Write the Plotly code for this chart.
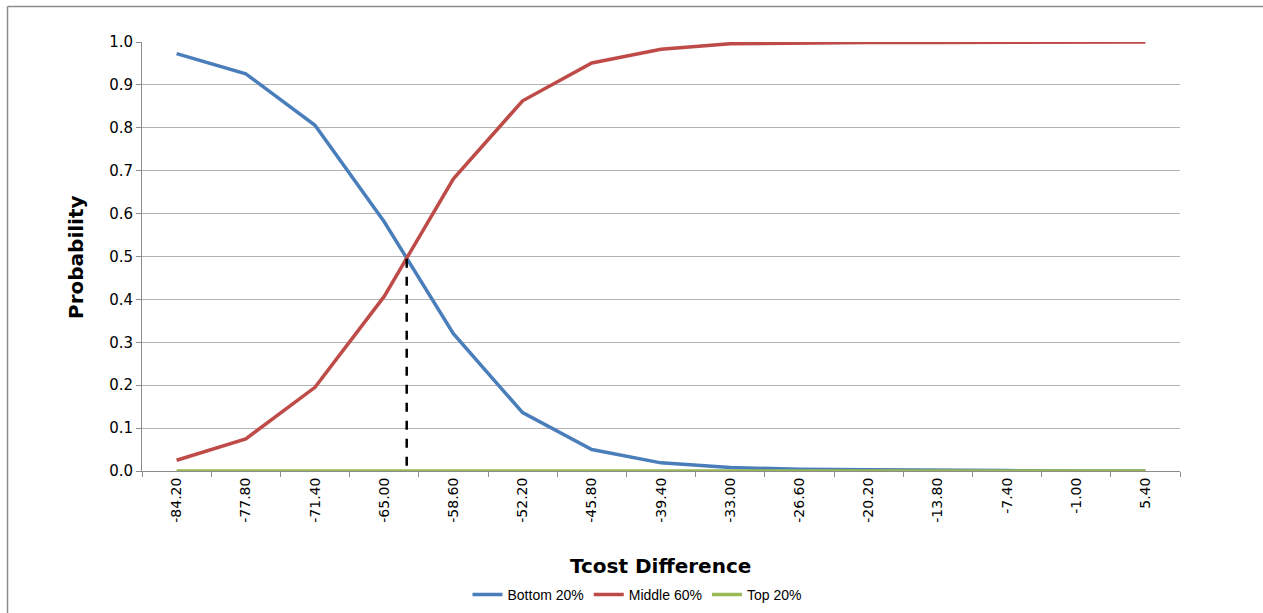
import plotly.graph_objects as go

categories = ["-84.20", "-77.80", "-71.40", "-65.00", "-58.60", "-52.20", "-45.80",
              "-39.40", "-33.00", "-26.60", "-20.20", "-13.80", "-7.40", "-1.00", "5.40"]
bottom20 = [0.973, 0.926, 0.806, 0.581, 0.320, 0.136, 0.050, 0.019, 0.008, 0.004,
            0.003, 0.003, 0.001, 0.000, 0.000]
middle60 = [0.025, 0.075, 0.195, 0.407, 0.681, 0.863, 0.951, 0.983, 0.996, 0.998,
            0.999, 0.999, 1.000, 1.000, 1.000]
top20 = [0.0] * 15
series_names = ["Bottom 20%", "Middle 60%", "Top 20%"]
colors = ["#4a7ebb", "#be4b48", "#98b954"]

# crossing point of Bottom and Middle curves (computed from data)
cross_x, cross_y = None, None
for i in range(len(categories) - 1):
    d0 = bottom20[i] - middle60[i]
    d1 = bottom20[i + 1] - middle60[i + 1]
    if d0 >= 0 and d1 < 0:
        t = d0 / (d0 - d1)
        cross_x = i + t
        cross_y = bottom20[i] + t * (bottom20[i + 1] - bottom20[i])
        break

fig = go.Figure()
for name, vals, col in zip(series_names, [bottom20, middle60, top20], colors):
    fig.add_trace(go.Scatter(x=categories, y=vals, mode="lines", name=name,
                             line=dict(color=col, width=3.5), cliponaxis=False))

W, H = 1263, 613
L, R, T, B = 142, 1180, 42, 471
pw, ph = R - L, B - T

def px(x):
    return (x - L) / pw

def py(y):
    return (B - y) / ph

fig.add_shape(type="line", xref="x", yref="y", x0=cross_x, x1=cross_x, y0=0.012, y1=cross_y,
              line=dict(color="black", width=2.5, dash="dash"))

# outer chart border (left and top edges visible)
fig.add_shape(type="line", xref="paper", yref="paper",
              x0=px(7.5), x1=px(7.5), y0=py(6.5), y1=py(613),
              line=dict(color="#8c8c8c", width=1.5), layer="below")
fig.add_shape(type="line", xref="paper", yref="paper",
              x0=px(7.5), x1=px(1263), y0=py(6.5), y1=py(6.5),
              line=dict(color="#8c8c8c", width=1.5), layer="below")

fig.add_annotation(text="<b>Probability</b>", xref="paper", yref="paper",
                   x=px(76), y=py(257), xanchor="center", yanchor="middle",
                   showarrow=False, textangle=-90,
                   font=dict(family="DejaVu Sans", size=20, color="black"))
fig.add_annotation(text="<b>Tcost Difference</b>", xref="paper", yref="paper",
                   x=px(660), y=py(566), xanchor="center", yanchor="middle",
                   showarrow=False,
                   font=dict(family="DejaVu Sans", size=20, color="black"))

fig.update_layout(
    width=W, height=H,
    margin=dict(l=L, r=W - R, t=T, b=H - B, autoexpand=False),
    paper_bgcolor="white", plot_bgcolor="white",
    showlegend=True,
    legend=dict(orientation="h", xref="container", yref="container",
                x=637 / W, xanchor="center", y=1 - 595 / H, yanchor="middle",
                font=dict(family="Liberation Sans Narrow, Arial Narrow, Liberation Sans", size=14, color="black"),
                itemwidth=30, tracegroupgap=0, bgcolor="rgba(0,0,0,0)"),
    xaxis=dict(type="category", range=[-0.5, len(categories) - 0.5],
               tickson="boundaries", ticks="outside", ticklen=5, tickcolor="#8c8c8c",
               showline=True, linecolor="#8c8c8c", linewidth=1, showgrid=False,
               layer="below traces",
               tickangle=-90, tickfont=dict(family="DejaVu Sans", size=14, color="black"),
               zeroline=False),
    yaxis=dict(range=[0, 1.0], dtick=0.1, tickformat=".1f", ticks="outside", ticklen=5,
               tickcolor="#8c8c8c", showline=True, linecolor="#8c8c8c", linewidth=1,
               showgrid=True, gridcolor="#b3b3b3", gridwidth=1, zeroline=False,
               tickfont=dict(family="DejaVu Sans", size=15, color="black")),
)

fig.write_html("out.html", config={"displayModeBar": False},
               post_script="document.body.style.margin='0';document.body.style.overflow='hidden';")
